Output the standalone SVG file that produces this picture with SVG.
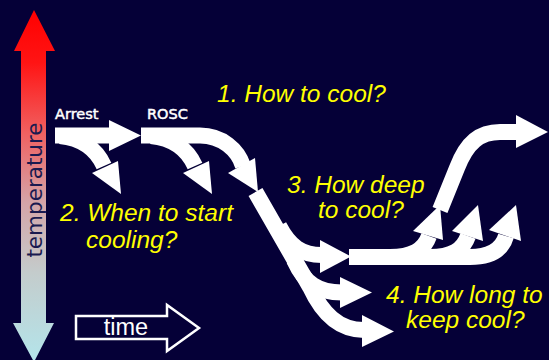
<svg xmlns="http://www.w3.org/2000/svg" width="549" height="360" viewBox="0 0 549 360">
  <defs>
    <linearGradient id="tempGrad" gradientUnits="userSpaceOnUse" x1="0" y1="10" x2="0" y2="360">
      <stop offset="0" stop-color="#ff0000"/>
      <stop offset="0.15" stop-color="#ff1414"/>
      <stop offset="0.35" stop-color="#f06060"/>
      <stop offset="0.55" stop-color="#d4a4a8"/>
      <stop offset="0.75" stop-color="#c4cccc"/>
      <stop offset="1" stop-color="#b4e4ea"/>
    </linearGradient>
  </defs>
  <style>
    .band { fill: none; stroke: #ffffff; stroke-width: 16; stroke-linecap: butt; stroke-linejoin: round; }
    .head { fill: #ffffff; }
    .q { fill: #ffff00; font-family: "Liberation Sans", Arial, sans-serif; font-style: italic; font-size: 24.5px; }
    .stage { fill: #ffffff; stroke: #ffffff; stroke-width: 0.5; font-family: "DejaVu Sans", Verdana, sans-serif; font-size: 14.5px; }
  </style>

  <rect x="0" y="0" width="549" height="360" fill="#050037"/>

  <!-- temperature axis: double-headed vertical arrow, hot at top, cold at bottom -->
  <g id="temperature-axis">
    <polygon points="34,10 55,51 46,51 46,323 54,323 34,362 13,323 21,323 21,51 14,51" fill="url(#tempGrad)"/>
    <text transform="translate(41.5,190) rotate(-90)" text-anchor="middle" fill="#1a1a50" font-family="'DejaVu Sans', Verdana, sans-serif" font-size="21.5">temperature</text>
  </g>

  <!-- time axis: outlined arrow pointing right -->
  <g id="time-axis">
    <polygon points="76,316 167,316 167,305 199,328 167,351 167,339 76,339" fill="none" stroke="#ffffff" stroke-width="2.5" stroke-linejoin="miter"/>
    <text x="126" y="335" text-anchor="middle" fill="#ffffff" font-family="'Liberation Sans', Arial, sans-serif" font-size="23.5">time</text>
  </g>

  <g id="node-arrest">
    <text class="stage" x="55" y="119">Arrest</text>
  </g>
  <g id="node-rosc">
    <text class="stage" x="147" y="119">ROSC</text>
  </g>

  <g id="connectors">
    <!-- Arrest to ROSC -->
    <path class="band" d="M55 135.5 H112"/>
    <polygon class="head" points="109,120 141,135.5 109,151"/>
    <!-- cooling started at arrest -->
    <path class="band" d="M60 136 C80 138 96 148 104 166"/>
    <polygon class="head" points="92,173 118,161 121,194"/>
    <!-- cooling started after ROSC -->
    <path class="band" d="M151 136 C171 138 187 148 195 166"/>
    <polygon class="head" points="183,173 209,161 212,194"/>
    <!-- ROSC main course -->
    <path class="band" d="M141 135.5 H200 C222 135.5 238 150 243 166"/>
    <polygon class="head" points="228,173 255,158 258,192"/>
    <!-- descending trunk curving into the lowest branch -->
    <path class="band" d="M255.5 192 L310 287 C322 313 338 330 364 330"/>
    <polygon class="head" points="362,315 394,331.5 362,347"/>
    <!-- upper branch off the trunk -->
    <path class="band" d="M279 226 C290 247 302 255 322 255"/>
    <polygon class="head" points="320,240 351,256.5 320,273"/>
    <!-- middle branch off the trunk -->
    <path class="band" d="M294 260 C305 284 318 292.5 342 292.5"/>
    <polygon class="head" points="340,277 372,292.5 340,308"/>
    <!-- plateau bar ending in rewarming curve -->
    <path class="band" d="M349 257 H470 C490 257 502 250 506 236" stroke-width="17"/>
    <polygon class="head" points="489,230 516,205 521,241"/>
    <!-- rewarming branches off the plateau -->
    <path class="band" d="M390 257 C412 257 424 250 429 236" stroke-width="15"/>
    <polygon class="head" points="413,231 440,205 443,240"/>
    <path class="band" d="M430 257 C452 257 463 250 468 236" stroke-width="15"/>
    <polygon class="head" points="452,231 478,205 483,241"/>
    <!-- rising course to normothermia -->
    <path class="band" d="M440 210 L457 168 C467 142 480 132 500 132 L518 132" stroke-width="15"/>
    <polygon class="head" points="516,115 548,132 516,148"/>
  </g>

  <g id="label-how">
    <text class="q" x="217" y="102">1. How to cool?</text>
  </g>
  <g id="label-when">
    <text class="q" x="60" y="221">2. When to start</text>
    <text class="q" x="86" y="248">cooling?</text>
  </g>
  <g id="label-depth">
    <text class="q" x="287" y="193">3. How deep</text>
    <text class="q" x="318" y="218">to cool?</text>
  </g>
  <g id="label-duration">
    <text class="q" x="386" y="303">4. How long to</text>
    <text class="q" x="406" y="328">keep cool?</text>
  </g>
</svg>
